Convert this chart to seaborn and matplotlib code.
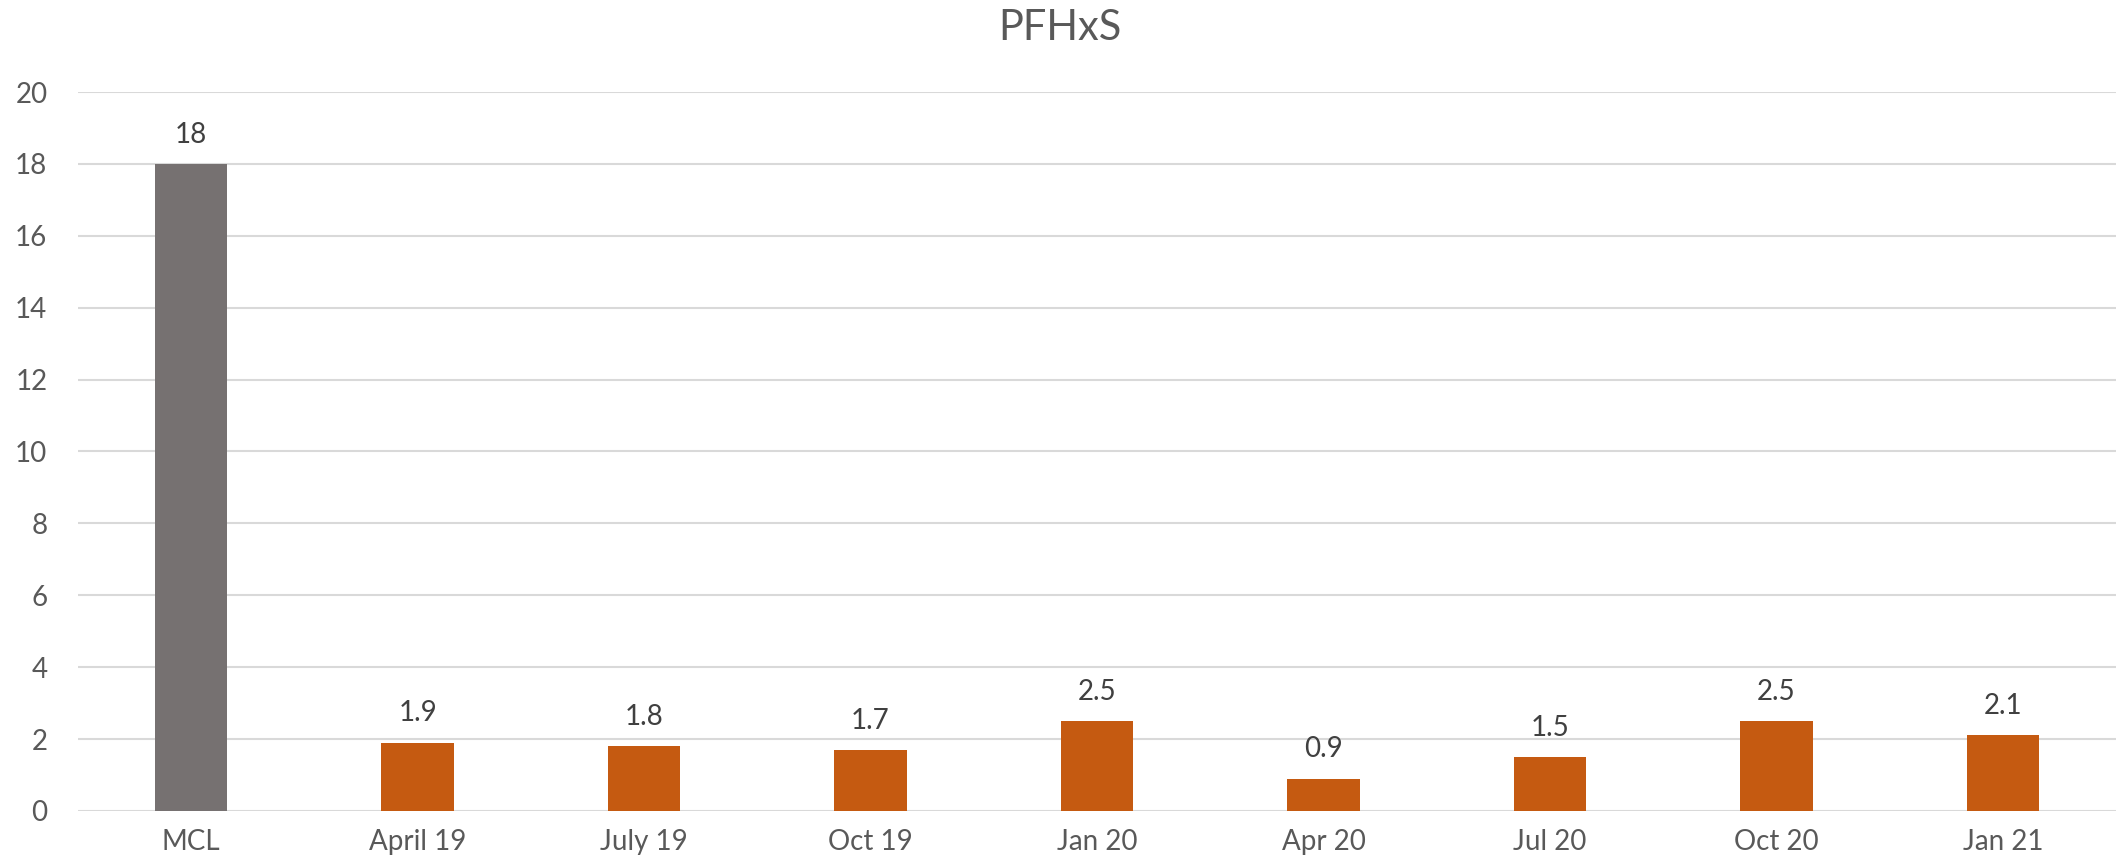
import numpy as np
import pandas as pd
import matplotlib
matplotlib.use("Agg")
import matplotlib.pyplot as plt
import seaborn as sns

categories = ["MCL", "April 19", "July 19", "Oct 19", "Jan 20", "Apr 20", "Jul 20", "Oct 20", "Jan 21"]
values = [18, 1.9, 1.8, 1.7, 2.5, 0.9, 1.5, 2.5, 2.1]
labels = ["18", "1.9", "1.8", "1.7", "2.5", "0.9", "1.5", "2.5", "2.1"]
y_ticks = [0, 2, 4, 6, 8, 10, 12, 14, 16, 18, 20]

sns.set_theme(style="white")
plt.rcParams['font.family'] = ['Lato', 'DejaVu Sans']

colors = ["#767171"] + ["#C55A11"] * (len(categories) - 1)
df = pd.DataFrame({"period": categories, "value": values})

fig = plt.figure(figsize=(21.19, 8.68), dpi=100)
ax = fig.add_axes([0.0368, 0.0657, 0.9618, 0.8283])

sns.barplot(data=df, x="period", y="value", hue="period", palette=colors,
            width=0.32, legend=False, ax=ax, saturation=1, linewidth=0)

for i, (v, lab) in enumerate(zip(values, labels)):
    ax.text(i, v + 0.45, lab, ha="center", va="bottom", fontsize=20, color="#404040")

ax.set_xlim(-0.5, len(categories) - 0.5)
ax.set_ylim(0, 20)
ax.set_yticks(y_ticks)
ax.yaxis.grid(True, color="#D9D9D9", linewidth=1.5)
ax.set_axisbelow(True)
for s in ax.spines.values():
    s.set_visible(False)
ax.tick_params(axis="both", length=0, labelsize=20, labelcolor="#595959")
ax.tick_params(axis="x", pad=13)
ax.tick_params(axis="y", pad=22)
ax.set_xlabel("")
ax.set_ylabel("")
fig.text(0.5, 0.968, "PFHxS", ha="center", va="center", fontsize=30, color="#595959")

fig.savefig("out.png", dpi=100)
